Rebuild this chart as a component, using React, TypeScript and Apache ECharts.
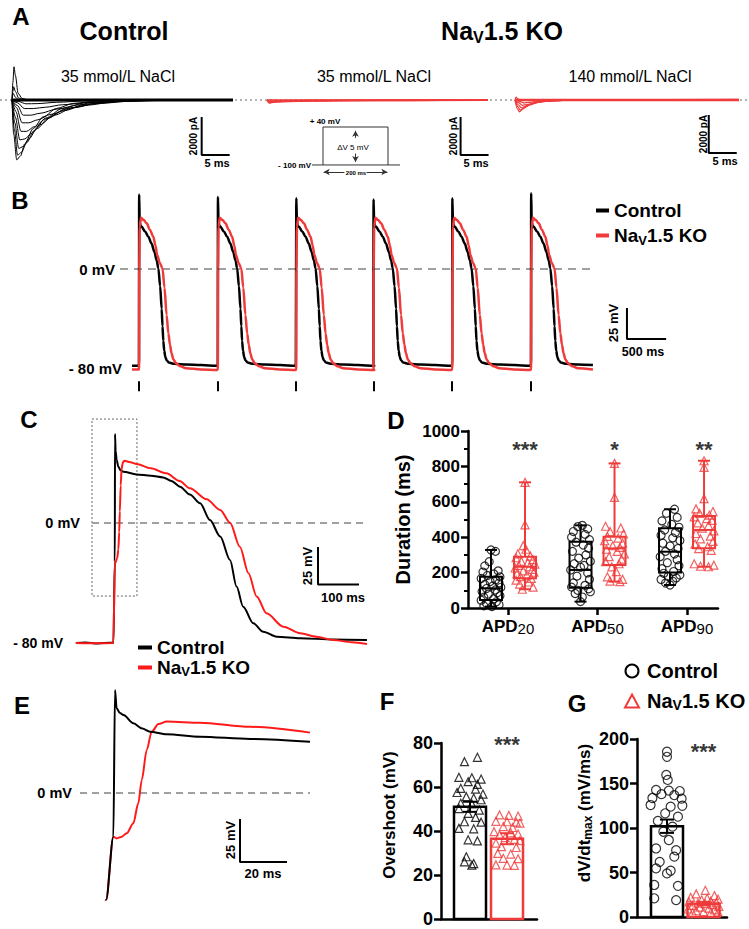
import React, { useEffect, useRef } from 'react';
import * as echarts from 'echarts';

const FONT = '"Liberation Sans", Arial, Helvetica, sans-serif';
const INK = '#000000';
const RED = '#ef3b3b';
const RED_TRACE = '#ff1a1a';
const DASH_GREY = '#a0a0a0';
const CTRL = 'Control';
const KO = 'NaV1.5 KO';

// ---------------- Panel A: Na currents (t ms, pA) ----------------
const controlCurrentTraces: number[][][] = [
  [[0,0],[0.3,-1800],[0.85,-3150],[1.5,-2950],[2.3,-2300],[3.8,-1500],[5.6,-880],[8,-440],[11,-175],[15.7,-50],[22,0],[39.5,0]],
  [[0,0],[0.4,-1500],[1.0,-2900],[1.7,-2750],[2.6,-2250],[4,-1600],[6,-950],[9,-450],[13,-150],[18,-40],[25,0],[39.5,0]],
  [[0,0],[0.5,-1200],[1.2,-2550],[2,-2450],[3,-2050],[4.5,-1500],[6.5,-950],[9.5,-480],[14,-160],[20,-40],[27,0],[39.5,0]],
  [[0,0],[0.6,-900],[1.4,-2100],[2.3,-2050],[3.5,-1750],[5,-1300],[7.5,-800],[11,-400],[16,-130],[22,-30],[30,0],[39.5,0]],
  [[0,0],[0.7,-600],[1.6,-1650],[2.6,-1650],[4,-1400],[6,-1000],[9,-580],[13,-280],[19,-80],[28,0],[39.5,0]],
  [[0,0],[0.8,-400],[1.8,-1200],[3,-1200],[4.5,-1050],[7,-750],[10.5,-420],[15,-190],[22,-50],[30,0],[39.5,0]],
  [[0,0],[1,-300],[2,-800],[3.3,-800],[5,-700],[8,-480],[12,-250],[18,-90],[26,-10],[39.5,0]],
  [[0,0],[1,-150],[2.2,-450],[3.8,-450],[6,-380],[9,-250],[14,-120],[21,-30],[30,0],[39.5,0]],
  [[0,0],[1.2,-80],[2.5,-200],[4.5,-190],[8,-120],[13,-50],[20,0],[39.5,0]],
  [[0,0],[0.15,900],[0.36,1750],[0.6,1300],[1.1,350],[1.8,80],[3,0],[39.5,0]],
  [[0,0],[0.15,450],[0.3,700],[0.6,450],[1.2,100],[2,0],[39.5,0]],
  [[0,0],[0.2,350],[0.6,150],[1.2,0],[39.5,0]],
];
const controlHolding = [[0,0],[39.5,0]];
const ko35CurrentTraces: number[][][] = [
  [[0,0],[0.4,-160],[1.2,-110],[4,-70],[12,-40],[25,-20],[39.5,-10]],
  [[0,0],[0.5,-100],[1.5,-80],[5,-50],[15,-25],[39.5,-5]],
  [[0,0],[0.4,-60],[2,-40],[8,-20],[39.5,0]],
  [[0,0],[39.5,0]],
];
const ko140CurrentTraces: number[][][] = [
  [[0,0],[0.4,-450],[0.8,-620],[1.4,-480],[2.2,-280],[3.5,-130],[5.5,-40],[8,0],[40,0]],
  [[0,0],[0.5,-350],[0.9,-520],[1.6,-420],[2.6,-260],[4,-120],[6,-40],[9,0],[40,0]],
  [[0,0],[0.6,-250],[1.1,-400],[1.9,-340],[3,-210],[4.5,-100],[7,-30],[10,0],[40,0]],
  [[0,0],[0.7,-150],[1.3,-280],[2.2,-240],[3.5,-150],[5.5,-70],[8.5,-15],[12,0],[40,0]],
  [[0,0],[0.8,-70],[1.5,-150],[2.6,-120],[4,-80],[6.5,-35],[10,0],[40,0]],
  [[0,0],[0.2,150],[0.5,60],[1,0],[40,0]],
  [[1,0],[40,30]],
];
// voltage protocol (ms, mV)
const protocolStep = [[-34,-100],[0,-100],[0,40],[200,40],[200,-100],[237,-100]];
const protocolHolding = [[0,-100],[200,-100]];

// ---------------- Panel B: AP train (ms, mV) ----------------
const bBeatStarts = [0, 1005, 2005, 2990, 3995, 5000];
const bControlSpikePeaks = [60, 58, 57, 56, 57, 61];
const bControlShape = [[0,-78],[2,60],[9,38],[20,35],[34,34],[80,30],[119,26],[160,20.5],[196,14],[225,7],[247,0.5],[270,-14],[289,-32],[300,-46],[310,-58],[322,-66],[336,-71],[352,-73.5],[380,-75.5],[450,-76.5],[600,-77],[790,-77.5],[995,-78]];
const bKoShape = [[0,-81],[3,0],[10,34],[25,41.4],[60,39.5],[98,36.8],[140,31.5],[183,26],[210,19],[232,11.3],[265,5],[300,0.5],[325,-15],[352,-37],[375,-52],[395,-61],[415,-68],[440,-73],[472,-76],[530,-78.5],[600,-80],[790,-81],[995,-81.5]];
const bTraceStart = -89;
const bTraceEnd = 5791;

// ---------------- Panel C: single AP (ms, mV) ----------------
const cControl = [[-93,-80],[-70,-79.6],[-40,-80.3],[-10,-79.8],[-1.5,-80],[2.0,-25.6],[2.4,59.3],[4,48],[6.5,42],[10.6,37.5],[16,35.2],[22.8,34.2],[55,32.4],[90,31.5],[120,30.4],[140,28],[161,24.2],[185,19],[210,13.1],[234,2],[259,-9],[283,-24.7],[299,-42.4],[315,-55.8],[340,-66.9],[364,-72.5],[397,-75.8],[454,-76.9],[535,-77.6],[617,-78]];
const cKo = [[-93,-80],[-40,-80.2],[-1.5,-80],[2.0,-25.6],[3.7,-26.4],[7.8,-23.4],[10.6,-17.6],[12.7,-6],[14.2,7.6],[16.3,25],[18.4,35.6],[21.3,40.1],[24.8,41.5],[40,40.5],[55,39.3],[90,36.5],[128,33.1],[160,28],[185,23.1],[226,15.8],[259,8.7],[283,0.2],[307,-15.8],[328,-33.5],[348,-49],[372,-60.2],[413,-69.1],[454,-73.5],[494,-75.8],[535,-78],[580,-79.5],[617,-80.7]];

// ---------------- Panel E: upstroke detail (ms, mV) ----------------
const eControl = [[-6,-80],[-3.4,-62.2],[-0.3,-25.4],[0.4,59.9],[1.1,49.2],[2.5,46.5],[4,45.3],[8.2,40.5],[12,37.5],[15.3,35.6],[22.4,34.1],[36.6,32.7],[57.9,31.4],[83.4,29.8]];
const eKo = [[-6,-80],[-3.4,-62.2],[-0.3,-25.4],[1.1,-26.4],[3,-25.6],[5.4,-23.4],[8.2,-17.6],[10.3,-6],[11.8,7.6],[13.9,25],[16,35.6],[18.9,40.1],[22.4,41.5],[36.6,40.9],[57.9,38.5],[83.4,35.1]];

// ---------------- Panel D: APD (ms) ----------------
const apdCategories = ['20', '50', '90'];
const apdBoxControl = [[8,45,111,177,328],[36,115,215,375,467],[130,200,318,450,558]];
const apdBoxKo = [[106,168,233,290,710],[149,243,337,403,817],[233,337,441,520,832]];
const apdSignificance = ['***', '*', '**'];
const apd20Control = [328,320,262,238,210,203,193,184,176,167,159,150,142,133,125,117,110,102,94,86,78,69,61,52,44,35,27,19,12,8];
const apd20ControlJitter = [0.0,0.05,-0.02,-0.07,0.08,-0.09,0.03,-0.04,0.1,-0.11,0.05,-0.01,0.09,-0.07,0.02,0.11,-0.05,0.05,-0.1,0.07,-0.03,0.1,-0.08,0.03,-0.11,0.06,-0.05,0.09,-0.08,0.01];
const apd20Ko = [710,470,352,332,306,293,284,273,263,256,248,241,233,226,218,210,202,194,186,177,167,157,147,135,118,106];
const apd20KoJitter = [0.0,0.0,-0.02,0.01,-0.08,0.06,-0.1,0.09,-0.04,0.03,0.11,-0.07,0.05,-0.11,0.08,-0.02,0.1,-0.09,0.02,-0.05,0.07,-0.1,0.04,-0.06,0.09,-0.03];
const apd50Control = [467,460,447,432,416,400,386,372,356,338,320,300,282,264,250,240,230,215,198,180,162,142,128,118,108,100,92,82,62,36];
const apd50ControlJitter = [0.02,-0.03,0.08,-0.08,0.05,-0.1,0.1,-0.05,0.03,0.09,-0.09,0.06,-0.02,0.11,-0.07,0.04,0.0,-0.11,0.08,-0.04,0.1,-0.08,0.05,-0.1,0.09,-0.03,0.11,-0.06,0.02,0.0];
const apd50Ko = [817,625,462,452,432,418,405,395,380,366,352,342,332,320,305,290,276,262,250,232,205,176,162,152,149];
const apd50KoJitter = [0.0,0.0,-0.1,0.07,-0.05,0.1,-0.08,0.04,-0.11,0.09,-0.02,0.06,-0.09,0.03,0.11,-0.06,0.08,-0.1,0.05,-0.03,0.02,-0.08,0.09,-0.05,0.06];
const apd90Control = [558,535,512,492,472,456,441,426,411,396,381,366,351,336,320,305,290,273,256,239,222,206,196,186,178,170,161,151,141,130];
const apd90ControlJitter = [0.05,-0.04,0.08,-0.09,0.02,0.1,-0.06,0.06,-0.1,0.03,0.11,-0.08,0.0,0.09,-0.05,0.05,-0.11,0.08,-0.03,0.1,-0.09,0.04,-0.07,0.11,-0.02,0.07,-0.1,0.03,-0.05,0.0];
const apd90Ko = [832,795,618,560,545,535,525,515,505,495,481,466,451,436,421,406,391,376,361,346,336,326,250,242,236,233];
const apd90KoJitter = [0.0,0.0,0.0,-0.09,0.1,-0.05,0.06,-0.11,0.03,0.09,-0.07,0.05,-0.02,0.11,-0.09,0.07,-0.04,0.1,-0.1,0.04,-0.06,0.08,-0.11,0.11,-0.04,0.05];

// ---------------- Panel F: overshoot (mV) ----------------
const overshootMean = [51, 36.5];
const overshootSem = [2.3, 2.5];
const overshootControl = [73.5,71.5,64.4,64.2,63.6,62.4,61.2,59.4,59.0,57.5,56.8,55.6,55.0,54.2,52.6,52.3,50.2,49.5,48.0,46.2,44.2,44.0,41.2,41.0,36.0,35.5,28.3,26.0,25.2,24.5];
const overshootControlJitter = [0.2,-0.15,-0.3,0.05,0.3,-0.05,0.2,-0.25,0.15,-0.35,0.35,-0.1,0.1,0.3,-0.25,0.05,-0.3,0.25,-0.05,0.15,-0.15,0.3,-0.3,0.1,-0.05,0.2,-0.1,-0.15,0.1,0.05];
const overshootKo = [47.3,47.1,46.8,44.4,44.2,44.0,43.6,42.0,41.6,39.7,39.2,38.6,38.2,37.0,36.2,35.6,34.5,32.9,32.5,29.8,29.5,27.6,27.4,24.6,24.5,24.4];
const overshootKoJitter = [-0.2,0.05,0.3,-0.3,0.0,0.25,0.35,-0.1,0.15,-0.35,0.1,0.3,-0.2,-0.05,0.2,0.35,-0.3,-0.15,0.25,-0.25,0.1,-0.1,0.3,-0.3,0.0,0.2];

// ---------------- Panel G: dV/dt max (mV/ms) ----------------
const dvdtMean = [102, 15];
const dvdtSem = [7.5, 2];
const dvdtControl = [185.7,180,159.6,154,142.7,142,141.5,138,137,133.7,133,125.8,125,124,116.5,112.7,108,101.5,95.8,86.5,77,75,67.8,62,54.7,52,49,36,35,21,19];
const dvdtControlJitter = [0,0,-0.02,0.02,-0.3,0.05,0.35,-0.15,0.2,-0.4,0.4,-0.45,0.42,0.1,-0.05,0.3,-0.25,0.15,-0.1,0.05,-0.3,0.25,0.2,-0.2,-0.3,0.1,0.0,-0.35,0.3,-0.35,0.25];
const dvdtKo = [30,26,24,22,21,20,19,18,17,16,15.5,15,14,13,12,11,10,9,8,7,6,5.5,5,5];
const dvdtKoJitter = [0.05,-0.2,0.3,-0.35,0.1,0.4,-0.05,0.2,-0.4,0.35,-0.15,0.05,0.25,-0.3,0.42,-0.1,0.15,-0.42,0.3,-0.2,0.0,0.4,-0.3,0.2];

// ---------------- layout ----------------
const GRIDS = [
  { left: 12, top: 52.5, width: 221, height: 123.5 },   // 0 A control
  { left: 267, top: 52.5, width: 221, height: 123.5 },  // 1 A KO 35
  { left: 515, top: 52.5, width: 224, height: 123.5 },  // 2 A KO 140
  { left: 312, top: 124.3, width: 88, height: 48.8 },   // 3 protocol
  { left: 120, top: 188.4, width: 550, height: 204.6 }, // 4 B
  { left: 76, top: 410.5, width: 291, height: 255 },    // 5 C
  { left: 468, top: 431, width: 250, height: 177 },     // 6 D
  { left: 80, top: 681.2, width: 230, height: 218.4 },  // 7 E
  { left: 441, top: 743, width: 96, height: 176 },      // 8 F
  { left: 637, top: 739, width: 90, height: 178 },      // 9 G
];
const X_RANGES = [[0,39.5],[0,39.5],[0,40],[-33.8,236.9],[-242.3,6773],[-92.7,617.1],[0.553,3.346],[-14.5,83.4],[0.216,2.811],[0.178,2.644]];
const Y_RANGES = [[-4000,2500],[-4000,2500],[-4000,2500],[-130,50],[-100,65],[-95,75],[0,1000],[-62,65],[0,80],[0,200]];
const GROUP_OFFSET = 0.19;

function buildTrain(shape: number[][], starts: number[], peaks: number[] | null, t0: number, tEnd: number) {
  const out: number[][] = [[t0, shape[0][1]]];
  starts.forEach((s, i) => {
    shape.forEach(([t, v], k) => {
      const tt = s + t;
      if (tt > tEnd) return;
      out.push([tt, peaks && k === 1 ? peaks[i] : v]);
    });
  });
  return out;
}

function line(gi: number, data: any[], color: string, width: number, extra: any = {}) {
  return {
    type: 'line', xAxisIndex: gi, yAxisIndex: gi, data, showSymbol: false, symbol: 'none',
    lineStyle: { color, width }, itemStyle: { color }, silent: true, z: 5, animation: false, ...extra,
  };
}
const smooth = { smooth: 0.3, smoothMonotone: 'x' };

function scaleBar(gi: number, x: number, top: number, amp: number, dur: number, extra: any = {}) {
  return line(gi, [[x, top], [x, top - amp], [x + dur, top - amp]], INK, 2, { z: 6, ...extra });
}

function txt(text: string, x: number, y: number, size: number, o: any = {}) {
  return {
    type: 'text', x, y, rotation: o.rot || 0, z: 20,
    style: {
      text, fontSize: size, fontWeight: o.weight || 'bold', fontFamily: FONT, fill: o.color || INK,
      align: o.align || 'center', verticalAlign: 'middle', textAlign: o.align || 'center', textVerticalAlign: 'middle',
      rich: o.rich,
    },
  };
}

function jittered(values: number[], jitter: number[], center: number) {
  return values.map((v, i) => [center + jitter[i], v]);
}

function boxRender(params: any, api: any) {
  const x = api.value(0);
  const c = api.value(6) ? RED : INK;
  const p = [1, 2, 3, 4, 5].map((k) => api.coord([x, api.value(k)]));
  const cx = p[0][0], hw = 11, cw = 6;
  const st = { stroke: c, lineWidth: 2, fill: 'none' };
  return {
    type: 'group', children: [
      { type: 'rect', shape: { x: cx - hw, y: p[3][1], width: 2 * hw, height: p[1][1] - p[3][1] }, style: st },
      { type: 'line', shape: { x1: cx - hw, y1: p[2][1], x2: cx + hw, y2: p[2][1] }, style: st },
      { type: 'line', shape: { x1: cx, y1: p[3][1], x2: cx, y2: p[4][1] }, style: st },
      { type: 'line', shape: { x1: cx, y1: p[1][1], x2: cx, y2: p[0][1] }, style: st },
      { type: 'line', shape: { x1: cx - cw, y1: p[4][1], x2: cx + cw, y2: p[4][1] }, style: st },
      { type: 'line', shape: { x1: cx - cw, y1: p[0][1], x2: cx + cw, y2: p[0][1] }, style: st },
    ],
  };
}

function barRender(params: any, api: any) {
  const x = api.value(0), m = api.value(1), e = api.value(2);
  const c = api.value(3) ? RED : INK;
  const base = api.coord([x, 0]);
  const top = api.coord([x, m]);
  const hi = api.coord([x, m + e]);
  const lo = api.coord([x, m - e]);
  const hw = 16, cw = 7;
  const st = { stroke: c, lineWidth: 2 };
  return {
    type: 'group', children: [
      { type: 'rect', shape: { x: base[0] - hw, y: top[1], width: 2 * hw, height: base[1] - top[1] }, style: { fill: '#fff', stroke: c, lineWidth: 2.5 } },
      { type: 'line', shape: { x1: base[0], y1: hi[1], x2: base[0], y2: lo[1] }, style: st },
      { type: 'line', shape: { x1: base[0] - cw, y1: hi[1], x2: base[0] + cw, y2: hi[1] }, style: st },
      { type: 'line', shape: { x1: base[0] - cw, y1: lo[1], x2: base[0] + cw, y2: lo[1] }, style: st },
    ],
  };
}

const legendRich = (size: number, lh: number) => ({
  p: { fontSize: size, fontWeight: 'bold', fontFamily: FONT, color: INK, lineHeight: lh },
  b: { fontSize: size, fontWeight: 'bold', fontFamily: FONT, color: INK, lineHeight: lh },
  s: { fontSize: Math.round(size * 0.68), fontWeight: 'bold', fontFamily: FONT, color: INK, lineHeight: Math.round(lh * 0.5), verticalAlign: 'bottom' },
});
const legendFmt = (n: string) => (n === KO ? '{p|Na}{s|V}{b|1.5 KO}' : `{p|${n}}`);

function buildOption() {
  const grid = GRIDS.map((g) => ({ ...g, outerBoundsMode: 'none', containLabel: false }));
  const axisLineStyle = { color: INK, width: 2.5 };
  const tickStyle = { color: INK, width: 2.5 };
  const labelStyle = (size: number) => ({ fontSize: size, fontWeight: 'bold', fontFamily: FONT, color: INK, formatter: (v: number) => String(v) });

  const xAxis: any[] = X_RANGES.map((r, i) => ({ type: 'value', gridIndex: i, min: r[0], max: r[1], show: false, splitLine: { show: false } }));
  const yAxis: any[] = Y_RANGES.map((r, i) => ({ type: 'value', gridIndex: i, min: r[0], max: r[1], show: false, splitLine: { show: false } }));

  // D axes
  xAxis[6] = {
    type: 'value', gridIndex: 6, min: X_RANGES[6][0], max: X_RANGES[6][1], show: true,
    axisLine: { show: true, onZero: false, lineStyle: axisLineStyle },
    axisTick: { show: true, customValues: [1, 2, 3], length: 7, lineStyle: tickStyle },
    axisLabel: {
      show: true, customValues: [1, 2, 3], margin: 8,
      formatter: (v: number) => `{a|APD}{s|${apdCategories[Math.round(v) - 1]}}`,
      rich: {
        a: { fontSize: 17, fontWeight: 'bold', fontFamily: FONT, color: INK, lineHeight: 20 },
        s: { fontSize: 15, fontFamily: FONT, color: INK, lineHeight: 10, verticalAlign: 'bottom' },
      },
    },
    splitLine: { show: false },
  };
  yAxis[6] = {
    type: 'value', gridIndex: 6, min: 0, max: 1000, interval: 200, show: true,
    axisLine: { show: true, onZero: false, lineStyle: axisLineStyle },
    axisTick: { show: true, length: 7, lineStyle: tickStyle },
    minorTick: { show: true, splitNumber: 2, length: 4, lineStyle: { color: INK, width: 2 } },
    axisLabel: { ...labelStyle(17), margin: 8 },
    splitLine: { show: false }, minorSplitLine: { show: false },
    name: 'Duration (ms)', nameLocation: 'middle', nameGap: 55, nameRotate: 90, nameMoveOverlap: false,
    nameTextStyle: { fontSize: 20, fontWeight: 'bold', fontFamily: FONT, color: INK },
  };
  // F axes
  xAxis[8] = { type: 'value', gridIndex: 8, min: X_RANGES[8][0], max: X_RANGES[8][1], show: true,
    axisLine: { show: true, onZero: false, lineStyle: axisLineStyle }, axisTick: { show: false }, axisLabel: { show: false }, splitLine: { show: false } };
  yAxis[8] = {
    type: 'value', gridIndex: 8, min: 0, max: 80, interval: 20, show: true,
    axisLine: { show: true, onZero: false, lineStyle: axisLineStyle },
    axisTick: { show: true, length: 7, lineStyle: tickStyle },
    axisLabel: { ...labelStyle(18), margin: 8 }, splitLine: { show: false },
    name: 'Overshoot (mV)', nameLocation: 'middle', nameGap: 43, nameRotate: 90, nameMoveOverlap: false,
    nameTextStyle: { fontSize: 17, fontWeight: 'bold', fontFamily: FONT, color: INK, padding: [0, 0, 0, 32] },
  };
  // G axes
  xAxis[9] = { type: 'value', gridIndex: 9, min: X_RANGES[9][0], max: X_RANGES[9][1], show: true,
    axisLine: { show: true, onZero: false, lineStyle: axisLineStyle }, axisTick: { show: false }, axisLabel: { show: false }, splitLine: { show: false } };
  yAxis[9] = {
    type: 'value', gridIndex: 9, min: 0, max: 200, interval: 50, show: true,
    axisLine: { show: true, onZero: false, lineStyle: axisLineStyle },
    axisTick: { show: true, length: 7, lineStyle: tickStyle },
    axisLabel: { ...labelStyle(18), margin: 8 }, splitLine: { show: false },
    name: '{b|dV/dt}{s|max}{b| (mV/ms)}', nameLocation: 'middle', nameGap: 43, nameRotate: 90, nameMoveOverlap: false,
    nameTextStyle: {
      fontSize: 17, fontWeight: 'bold', fontFamily: FONT, color: INK, padding: [0, 0, 0, 30],
      rich: {
        b: { fontSize: 17, fontWeight: 'bold', fontFamily: FONT, color: INK, lineHeight: 20 },
        s: { fontSize: 12, fontWeight: 'bold', fontFamily: FONT, color: INK, lineHeight: 10, verticalAlign: 'bottom' },
      },
    },
  };

  const series: any[] = [];
  // ---- A ----
  controlCurrentTraces.forEach((tr) => series.push(line(0, tr, INK, 1, smooth)));
  series.push(line(0, controlHolding, INK, 3));
  ko35CurrentTraces.forEach((tr) => series.push(line(1, tr, RED, 1.6, smooth)));
  ko140CurrentTraces.forEach((tr) => series.push(line(2, tr, RED, 1.2, smooth)));
  series.push(line(2, [[0, 0], [40, 0]], RED, 2.5));
  series.push(scaleBar(0, 33.9, -895, 2000, 5));
  series.push(scaleBar(1, 34.6, -895, 2000, 5));
  series.push(scaleBar(2, 34.6, -790, 2000, 5));
  // protocol
  series.push(line(3, protocolStep, '#333', 1, {
    markLine: {
      silent: true, symbol: ['none', 'arrow'], symbolSize: [5, 6], label: { show: false },
      lineStyle: { color: '#333', width: 1, type: 'solid' },
      data: [
        [{ coord: [100, 0] }, { coord: [100, 26] }],
        [{ coord: [100, -58] }, { coord: [100, -89] }],
        [{ coord: [66, -126] }, { coord: [2, -126] }],
        [{ coord: [134, -126] }, { coord: [198, -126] }],
      ],
    },
  }));
  series.push(line(3, protocolHolding, '#333', 1));

  // ---- B ----
  const bControl = buildTrain(bControlShape, bBeatStarts, bControlSpikePeaks, bTraceStart, bTraceEnd);
  const bKo = buildTrain(bKoShape, bBeatStarts, null, bTraceStart, bTraceEnd);
  series.push(line(4, bControl, INK, 2.5, {
    name: CTRL, ...smooth,
    markLine: {
      silent: true, symbol: ['none', 'none'], label: { show: false },
      lineStyle: { color: DASH_GREY, width: 2, type: [8, 6] },
      data: [[{ coord: [-242.3, 0] }, { coord: [5778, 0] }]],
    },
  }));
  series.push(line(4, bKo, RED, 2.5, { name: KO, ...smooth }));
  series.push(scaleBar(4, 6224, -31.5, 25, 500, {
    markLine: {
      silent: true, symbol: ['none', 'none'], label: { show: false },
      lineStyle: { color: INK, width: 2, type: 'solid' },
      data: bBeatStarts.map((t) => [{ coord: [t, -90.5] }, { coord: [t, -98.5] }]),
    },
  }));

  // ---- C ----
  series.push(line(5, cControl, INK, 2, {
    name: CTRL, ...smooth,
    markLine: {
      silent: true, symbol: ['none', 'none'], label: { show: false },
      lineStyle: { color: DASH_GREY, width: 2, type: [7, 5] },
      data: [[{ coord: [-53.7, 0] }, { coord: [617, 0] }]],
    },
    markArea: {
      silent: true, label: { show: false },
      itemStyle: { color: 'rgba(0,0,0,0)', borderColor: '#666', borderWidth: 1, borderType: [2, 2] },
      data: [[{ xAxis: -53.7, yAxis: 69.3 }, { xAxis: 56, yAxis: -48.7 }]],
    },
  }));
  series.push(line(5, cKo, RED_TRACE, 2, { name: KO, ...smooth }));
  series.push(scaleBar(5, 497.6, -16, 25, 100));

  // ---- E ----
  series.push(line(7, eControl, INK, 2, {
    name: CTRL, ...smooth, z: 6,
    markLine: {
      silent: true, symbol: ['none', 'none'], label: { show: false },
      lineStyle: { color: DASH_GREY, width: 2, type: [7, 5] },
      data: [{ yAxis: 0 }],
    },
  }));
  series.push(line(7, eKo, RED_TRACE, 2, { name: KO, ...smooth }));
  series.push(scaleBar(7, 53.6, -15.1, 25, 20));

  // ---- D ----
  const boxData = [
    ...apdBoxControl.map((s, i) => [i + 1 - GROUP_OFFSET, ...s, 0]),
    ...apdBoxKo.map((s, i) => [i + 1 + GROUP_OFFSET, ...s, 1]),
  ];
  series.push({ type: 'custom', name: CTRL, xAxisIndex: 6, yAxisIndex: 6, data: boxData, renderItem: boxRender, encode: { x: 0, y: [1, 2, 3, 4, 5] }, z: 3, silent: true });
  const dCtrlPts = [
    ...jittered(apd20Control, apd20ControlJitter, 1 - GROUP_OFFSET),
    ...jittered(apd50Control, apd50ControlJitter, 2 - GROUP_OFFSET),
    ...jittered(apd90Control, apd90ControlJitter, 3 - GROUP_OFFSET),
  ];
  const dKoPts = [
    ...jittered(apd20Ko, apd20KoJitter, 1 + GROUP_OFFSET),
    ...jittered(apd50Ko, apd50KoJitter, 2 + GROUP_OFFSET),
    ...jittered(apd90Ko, apd90KoJitter, 3 + GROUP_OFFSET),
  ];
  const circleStyle = { color: 'rgba(255,255,255,0)', borderColor: INK, borderWidth: 1.2 };
  const triStyle = { color: 'rgba(255,255,255,0)', borderColor: RED, borderWidth: 1.2 };
  series.push({ type: 'scatter', name: CTRL, xAxisIndex: 6, yAxisIndex: 6, data: dCtrlPts, symbol: 'circle', symbolSize: 8, itemStyle: circleStyle, z: 4, silent: true });
  series.push({ type: 'scatter', name: KO, xAxisIndex: 6, yAxisIndex: 6, data: dKoPts, symbol: 'triangle', symbolSize: 8, itemStyle: triStyle, z: 4, silent: true });
  const starLabel = { show: true, position: 'inside', fontSize: 22, fontWeight: 'bold', fontFamily: FONT, color: INK, offset: [0, 5] };
  series.push({
    type: 'scatter', xAxisIndex: 6, yAxisIndex: 6, symbolSize: 1, itemStyle: { color: 'rgba(0,0,0,0)' }, clip: false, silent: true, z: 8,
    data: apdSignificance.map((s, i) => ({ value: [i + 1 + GROUP_OFFSET, 925], label: { ...starLabel, formatter: s } })),
  });

  // ---- F ----
  series.push({ type: 'custom', name: CTRL, xAxisIndex: 8, yAxisIndex: 8, data: overshootMean.map((m, i) => [i + 1, m, overshootSem[i], i]), renderItem: barRender, encode: { x: 0, y: [1] }, z: 2, silent: true });
  series.push({ type: 'scatter', name: CTRL, xAxisIndex: 8, yAxisIndex: 8, data: jittered(overshootControl, overshootControlJitter, 1), symbol: 'triangle', symbolSize: 8, itemStyle: { ...triStyle, borderColor: INK }, z: 4, silent: true });
  series.push({ type: 'scatter', name: KO, xAxisIndex: 8, yAxisIndex: 8, data: jittered(overshootKo, overshootKoJitter, 2), symbol: 'triangle', symbolSize: 8, itemStyle: triStyle, z: 4, silent: true });
  series.push({ type: 'scatter', xAxisIndex: 8, yAxisIndex: 8, symbolSize: 1, itemStyle: { color: 'rgba(0,0,0,0)' }, clip: false, silent: true, z: 8,
    data: [{ value: [2, 81.4], label: { ...starLabel, formatter: '***' } }] });

  // ---- G ----
  series.push({ type: 'custom', name: CTRL, xAxisIndex: 9, yAxisIndex: 9, data: dvdtMean.map((m, i) => [i + 1, m, dvdtSem[i], i]), renderItem: barRender, encode: { x: 0, y: [1] }, z: 2, silent: true });
  series.push({ type: 'scatter', name: CTRL, xAxisIndex: 9, yAxisIndex: 9, data: jittered(dvdtControl, dvdtControlJitter, 1), symbol: 'circle', symbolSize: 9, itemStyle: circleStyle, z: 4, silent: true });
  series.push({ type: 'scatter', name: KO, xAxisIndex: 9, yAxisIndex: 9, data: jittered(dvdtKo, dvdtKoJitter, 2), symbol: 'triangle', symbolSize: 8, itemStyle: triStyle, z: 4, silent: true });
  series.push({ type: 'scatter', xAxisIndex: 9, yAxisIndex: 9, symbolSize: 1, itemStyle: { color: 'rgba(0,0,0,0)' }, clip: false, silent: true, z: 8,
    data: [{ value: [2, 192], label: { ...starLabel, formatter: '***' } }] });

  const fgRich = legendRich(20, 22);
  const legend = [
    {
      left: 591, top: 196, orient: 'vertical', itemWidth: 13, itemHeight: 4, itemGap: 6, icon: 'rect', selectedMode: false,
      data: [CTRL, KO], formatter: legendFmt, textStyle: { rich: legendRich(19, 22) },
    },
    {
      left: 133, top: 633, orient: 'vertical', itemWidth: 14, itemHeight: 4, itemGap: 1, icon: 'rect', selectedMode: false,
      data: [CTRL, { name: KO, itemStyle: { color: RED_TRACE } }], formatter: legendFmt, textStyle: { rich: legendRich(19, 20) },
    },
    {
      left: 619, top: 656, orient: 'vertical', itemWidth: 14, itemHeight: 13, itemGap: 10, selectedMode: false,
      data: [
        { name: CTRL, icon: 'circle', itemStyle: { color: 'rgba(255,255,255,0)', borderColor: INK, borderWidth: 2 } },
        { name: KO, icon: 'triangle', itemStyle: { color: 'rgba(255,255,255,0)', borderColor: RED, borderWidth: 2 } },
      ],
      formatter: legendFmt,
      textStyle: { rich: { ...fgRich, p: { ...fgRich.p, padding: [0, 0, 0, 3] } } },
    },
  ];

  const titleRich = {
    b: { fontSize: 25, fontWeight: 'bold', fontFamily: FONT, fill: INK, color: INK, lineHeight: 28 },
    s: { fontSize: 16, fontWeight: 'bold', fontFamily: FONT, fill: INK, color: INK, lineHeight: 14, verticalAlign: 'bottom' },
  };
  const R90 = Math.PI / 2;
  const graphic = {
    elements: [
      { type: 'line', z: 1, shape: { x1: 0, y1: 100, x2: 749, y2: 100 }, style: { stroke: '#9a9a9a', lineWidth: 1.5, lineDash: [2, 3] } },
      txt('A', 21, 16, 24), txt('B', 20, 200, 24), txt('C', 29, 419, 24), txt('D', 396, 420, 24),
      txt('E', 22, 705, 24), txt('F', 387, 701, 24), txt('G', 577, 703, 24),
      txt('Control', 124, 31, 25),
      txt('{b|Na}{s|V}{b|1.5 KO}', 502, 31, 25, { rich: titleRich }),
      txt('35 mmol/L NaCl', 118, 76, 16, { weight: 'normal' }),
      txt('35 mmol/L NaCl', 374, 76, 16, { weight: 'normal' }),
      txt('140 mmol/L NaCl', 630, 76, 16, { weight: 'normal' }),
      txt('2000 pA', 193, 136, 10, { rot: R90 }), txt('5 ms', 217, 163, 11),
      txt('2000 pA', 453, 136, 10, { rot: R90 }), txt('5 ms', 476, 163, 11),
      txt('2000 pA', 703, 134, 10, { rot: R90 }), txt('5 ms', 725, 161, 11),
      txt('+ 40 mV', 325, 121, 8), txt('- 100 mV', 311, 165, 8, { align: 'right' }),
      txt('ΔV 5 mV', 353, 147, 8, { weight: 'normal' }), txt('200 ms', 356, 173, 6),
      txt('0 mV', 115, 269, 15, { align: 'right' }), txt('- 80 mV', 122, 368, 15, { align: 'right' }),
      txt('25 mV', 613, 323, 13, { rot: R90 }), txt('500 ms', 643, 352, 12.5),
      txt('0 mV', 80, 523, 14.5, { align: 'right' }), txt('- 80 mV', 63, 643, 14, { align: 'right' }),
      txt('25 mV', 307, 566, 13, { rot: R90 }), txt('100 ms', 343, 597, 13),
      txt('0 mV', 72, 793, 14.5, { align: 'right' }),
      txt('25 mV', 230, 840, 13, { rot: R90 }), txt('20 ms', 263, 873, 13),
    ],
  };

  return { animation: false, backgroundColor: '#ffffff', grid, xAxis, yAxis, series, legend, graphic };
}

export default function App() {
  const ref = useRef<HTMLDivElement>(null);
  useEffect(() => {
    if (!ref.current) return;
    const chart = echarts.init(ref.current, null, { renderer: 'svg' });
    chart.setOption(buildOption() as any);
    return () => chart.dispose();
  }, []);
  return <div ref={ref} style={{ position: 'absolute', left: 0, top: 0, width: 749, height: 929, background: '#fff' }} />;
}
